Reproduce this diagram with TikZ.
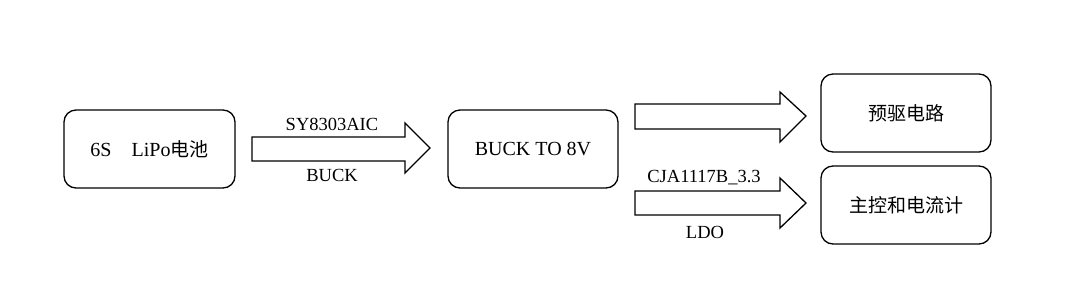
\documentclass[tikz,border=0pt]{standalone}
\usepackage{fontspec}
\setmainfont{Liberation Serif}
\newfontfamily\cjk{Noto Sans CJK SC}[Scale=0.95]
\begin{document}
\begin{tikzpicture}[x=1pt,y=-1pt,
  blockbox/.style={draw,line width=1.3pt,rounded corners=12pt},
  fatarrow/.style={draw,line width=1.3pt,fill=white},
  lbl/.style={font=\fontsize{18.5}{20}\selectfont,inner sep=0pt},
  boxtxt/.style={font=\fontsize{20}{22}\selectfont,inner sep=0pt}]
\useasboundingbox (0,0) rectangle (1066,301);
% boxes
\draw[blockbox] (64,110) rectangle (235,188);
\node[boxtxt] (bat) at (149.5,149) {6S\quad LiPo{\cjk 电池}};
\draw[blockbox] (448,110) rectangle (618,188);
\node[boxtxt] (buck) at (533,149) {BUCK TO 8V};
\draw[blockbox] (821,74) rectangle (991,152);
\node[boxtxt] (pre) at (906,113) {\cjk 预驱电路};
\draw[blockbox] (821,166) rectangle (991,244);
\node[boxtxt] (mcu) at (906,205) {\cjk 主控和电流计};
% arrows
\draw[fatarrow] (252,137) -- (405,137) -- (405,123) -- (430,148) -- (405,173) -- (405,161) -- (252,161) -- cycle;
\draw[fatarrow] (635,104) -- (780,104) -- (780,92) -- (806,116) -- (780,142) -- (780,129) -- (635,129) -- cycle;
\draw[fatarrow] (635,191) -- (780,191) -- (780,178) -- (806,203) -- (780,228) -- (780,215) -- (635,215) -- cycle;
% labels
\node[lbl] (l1) at (332,124) {SY8303AIC};
\node[lbl] (l2) at (332,175) {BUCK};
\node[lbl] (l3) at (704,178) {CJA1117B\_3.3};
\node[lbl] (l4) at (705,232) {LDO};
\end{tikzpicture}
\end{document}
